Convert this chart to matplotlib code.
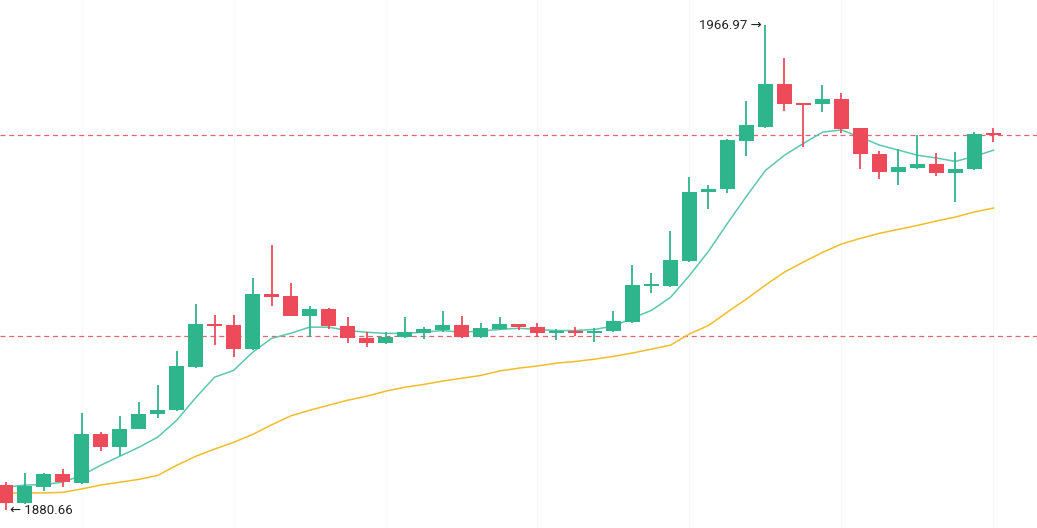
import matplotlib.pyplot as plt

# OHLC
opens = [1885.1, 1881.9, 1884.7, 1887.0, 1885.4, 1894.1, 1891.8, 1895.0, 1897.7, 1898.4,
         1906.1, 1913.7, 1913.5, 1909.3, 1919.1, 1918.7, 1915.2, 1916.4, 1913.4, 1911.2,
         1910.3, 1911.4, 1912.1, 1912.7, 1913.6, 1911.4, 1912.8, 1913.7, 1913.2, 1912.1,
         1912.3, 1912.1, 1912.5, 1914.1, 1920.6, 1920.5, 1924.9, 1937.2, 1937.8, 1946.3,
         1948.8, 1956.4, 1952.9, 1952.9, 1953.8, 1948.6, 1944.0, 1940.8, 1941.5, 1942.2,
         1940.6, 1941.3, 1947.6]
highs = [1885.6, 1887.2, 1887.2, 1887.9, 1897.9, 1894.5, 1897.4, 1899.8, 1902.9, 1908.9,
         1917.3, 1915.3, 1915.3, 1921.9, 1927.8, 1921.0, 1916.9, 1916.6, 1915.0, 1912.3,
         1912.3, 1915.0, 1913.2, 1916.0, 1915.2, 1913.9, 1915.0, 1913.8, 1913.9, 1912.8,
         1913.2, 1913.0, 1916.0, 1924.2, 1922.8, 1930.3, 1939.9, 1938.5, 1946.6, 1953.4,
         1966.97, 1961.1, 1953.0, 1956.3, 1954.8, 1948.7, 1944.5, 1944.9, 1947.4, 1944.2,
         1944.4, 1947.9, 1948.6]
lows = [1880.66, 1881.7, 1884.0, 1884.7, 1885.3, 1891.1, 1890.2, 1895.0, 1897.0, 1898.3,
        1905.9, 1910.0, 1907.9, 1909.2, 1916.9, 1915.1, 1911.4, 1912.8, 1910.3, 1909.6,
        1910.2, 1911.2, 1911.1, 1912.3, 1911.2, 1911.3, 1912.7, 1912.7, 1911.4, 1910.9,
        1911.6, 1910.5, 1912.4, 1914.0, 1919.2, 1920.4, 1924.8, 1934.2, 1937.0, 1943.6,
        1948.7, 1951.6, 1945.2, 1951.5, 1947.7, 1941.3, 1939.5, 1938.5, 1941.3, 1940.1,
        1935.4, 1941.2, 1946.1]
closes = [1881.9, 1884.9, 1887.0, 1885.6, 1894.1, 1891.8, 1895.0, 1897.7, 1898.4, 1906.3,
          1913.7, 1913.4, 1909.3, 1919.1, 1918.5, 1915.2, 1916.4, 1913.4, 1911.2, 1910.3,
          1911.4, 1912.3, 1912.8, 1913.6, 1911.4, 1913.0, 1913.7, 1913.2, 1912.1, 1912.3,
          1912.1, 1912.5, 1914.3, 1920.7, 1920.8, 1925.1, 1937.2, 1937.8, 1946.5, 1949.2,
          1956.4, 1952.9, 1952.7, 1953.8, 1948.4, 1944.0, 1940.8, 1941.7, 1942.2, 1940.6,
          1941.3, 1947.6, 1947.4]

ma_fast = [1884.7, 1885.1, 1885.2, 1885.6, 1886.8, 1888.6, 1890.2, 1891.8, 1893.6, 1896.6,
           1900.6, 1904.3, 1905.5, 1908.7, 1911.2, 1912.1, 1913.2, 1913.2, 1912.6, 1912.3,
           1912.1, 1912.1, 1912.3, 1912.6, 1912.3, 1912.5, 1912.8, 1913.0, 1912.8, 1912.6,
           1912.6, 1912.8, 1913.4, 1914.8, 1916.2, 1918.5, 1922.4, 1926.7, 1931.7, 1936.5,
           1941.1, 1943.8, 1945.9, 1947.9, 1948.3, 1947.0, 1945.6, 1944.7, 1943.8, 1943.3,
           1942.7, 1943.6, 1944.7]
ma_slow = [1883.7, 1883.7, 1883.7, 1883.8, 1884.4, 1885.1, 1885.6, 1886.1, 1886.8, 1888.6,
           1890.2, 1891.5, 1892.7, 1894.1, 1895.8, 1897.4, 1898.4, 1899.3, 1900.2, 1900.9,
           1901.8, 1902.5, 1903.0, 1903.6, 1904.1, 1904.6, 1905.4, 1905.9, 1906.3, 1906.8,
           1907.1, 1907.5, 1908.0, 1908.6, 1909.3, 1910.0, 1912.0, 1913.5, 1915.9, 1918.2,
           1920.7, 1923.0, 1924.8, 1926.5, 1928.0, 1929.0, 1929.9, 1930.6, 1931.3, 1932.1,
           1932.8, 1933.7, 1934.4]

price_lines = [1947.4, 1911.6]
max_label = "1966.97 \u2192"
min_label = "\u2190 1880.66"

up = '#2eb58b'
down = '#ee4b5a'

fig = plt.figure(figsize=(10.37, 5.28), dpi=100)
ax = fig.add_axes([0, 0, 1, 1])

n = len(opens)
xs = list(range(n))

# very faint vertical grid
for gx in range(4, n + 2, 8):
    ax.axvline(gx, color='#f8f8f8', lw=0.8, zorder=0)

for y in price_lines:
    ax.axhline(y, color='#dd6670', lw=0.9, dashes=(4, 3), zorder=1)

ax.plot(xs, ma_slow, color='#f0bd2a', lw=1.1, zorder=2)
ax.plot(xs, ma_fast, color='#5cc7ae', lw=1.1, zorder=2)

for i in xs:
    o, h, l, c = opens[i], highs[i], lows[i], closes[i]
    col = up if c >= o else down
    ax.vlines(i, l, h, color=col, lw=1.3, zorder=3)
    bottom = min(o, c)
    height = max(abs(c - o), 0.35)
    ax.bar(i, height, bottom=bottom, width=0.76, color=col, zorder=4)

imax = highs.index(max(highs))
imin = lows.index(min(lows))
ax.text(imax - 0.2, highs[imax], max_label, ha='right', va='center',
        fontsize=9.5, color='#222222', family=['Roboto', 'DejaVu Sans'])
ax.text(imin + 0.25, lows[imin], min_label, ha='left', va='center',
        fontsize=9.5, color='#222222', family=['Roboto', 'DejaVu Sans'])

ax.set_xlim(-0.29, 54.29)
ax.set_ylim(1877.46, 1971.42)
ax.axis('off')

fig.savefig('out.png', dpi=100)
